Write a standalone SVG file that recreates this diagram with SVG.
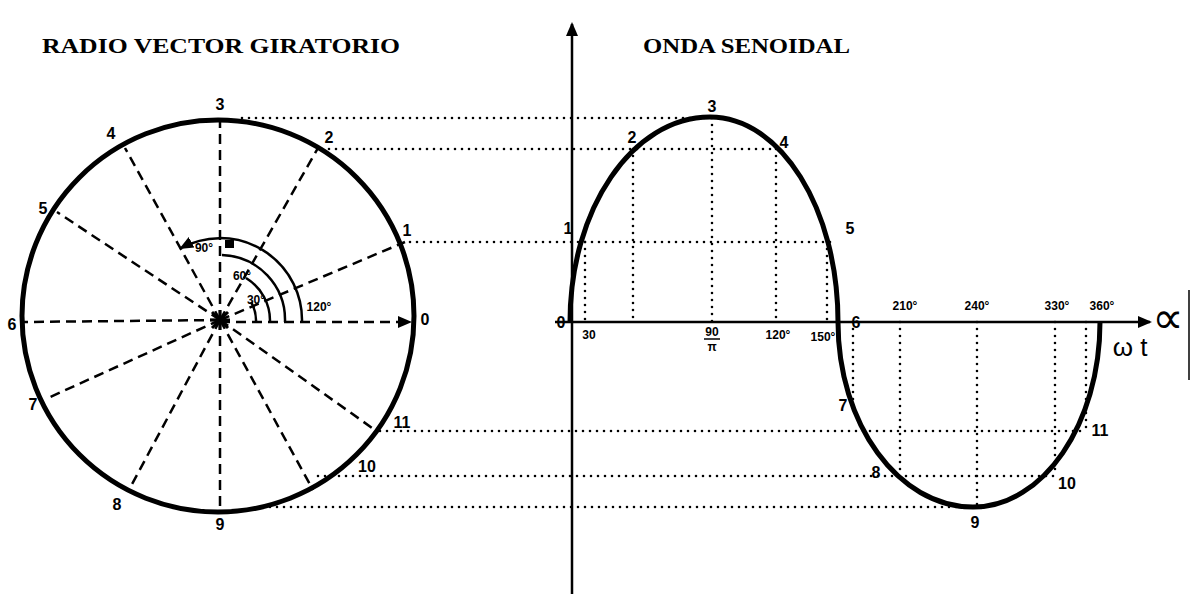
<svg xmlns="http://www.w3.org/2000/svg" width="1194" height="594" viewBox="0 0 1194 594">
<style>
.title{font-family:"Liberation Serif",serif;font-size:22px;font-weight:bold;fill:#000}
.lbl{font-family:"Liberation Sans",sans-serif;font-size:16px;font-weight:bold;fill:#000;text-anchor:middle}
.sm{font-family:"Liberation Sans",sans-serif;font-size:12px;font-weight:bold;fill:#000;text-anchor:middle}
.thick{fill:none;stroke:#000;stroke-width:5}
.dash{fill:none;stroke:#000;stroke-width:2.5;stroke-dasharray:10 6}
.dot{fill:none;stroke:#000;stroke-width:2.6;stroke-dasharray:0 7;stroke-linecap:round}
.axis{fill:none;stroke:#000;stroke-width:2.5}
.arc{fill:none;stroke:#000;stroke-width:2.5}
</style>
<defs>
<marker id="ahb" markerWidth="14" markerHeight="14" refX="12" refY="7" orient="auto" markerUnits="userSpaceOnUse">
<path d="M0,1 L14,7 L0,13 Z" fill="#000"/>
</marker>
</defs>
<rect width="1194" height="594" fill="#fff"/>

<text class="title" x="42" y="53" textLength="358" lengthAdjust="spacingAndGlyphs">RADIO VECTOR GIRATORIO</text>
<text class="title" x="643" y="53" textLength="207" lengthAdjust="spacingAndGlyphs">ONDA SENOIDAL</text>

<g id="connectors">
<line class="dot" x1="242" y1="118" x2="712" y2="118"/>
<line class="dot" x1="322" y1="149" x2="776" y2="149"/>
<line class="dot" x1="410" y1="242" x2="832" y2="242"/>
<line class="dot" x1="380" y1="431" x2="1087" y2="431"/>
<line class="dot" x1="318" y1="476" x2="1055" y2="476"/>
<line class="dot" x1="270" y1="507" x2="973" y2="507"/>
<line class="dot" x1="585" y1="242" x2="585" y2="322"/>
<line class="dot" x1="633" y1="149" x2="633" y2="322"/>
<line class="dot" x1="712" y1="118" x2="712" y2="322"/>
<line class="dot" x1="776" y1="149" x2="776" y2="322"/>
<line class="dot" x1="827" y1="242" x2="827" y2="322"/>
<line class="dot" x1="853" y1="322" x2="853" y2="400"/>
<line class="dot" x1="900" y1="322" x2="900" y2="476"/>
<line class="dot" x1="977" y1="322" x2="977" y2="507"/>
<line class="dot" x1="1055" y1="322" x2="1055" y2="476"/>
<line class="dot" x1="1086" y1="322" x2="1086" y2="431"/>
</g>

<g id="circle">
<circle class="thick" cx="218" cy="316" r="196"/>
<line class="dash" x1="220" y1="320" x2="405" y2="242"/>
<line class="dash" x1="220" y1="320" x2="318" y2="148"/>
<line class="dash" x1="220" y1="320" x2="220" y2="120"/>
<line class="dash" x1="220" y1="320" x2="125" y2="148"/>
<line class="dash" x1="220" y1="320" x2="57" y2="212"/>
<line class="dash" x1="220" y1="320" x2="22" y2="322"/>
<line class="dash" x1="220" y1="320" x2="48" y2="398"/>
<line class="dash" x1="220" y1="320" x2="130" y2="488"/>
<line class="dash" x1="220" y1="320" x2="220" y2="508"/>
<line class="dash" x1="220" y1="320" x2="313" y2="490"/>
<line class="dash" x1="220" y1="320" x2="375" y2="430"/>
<line class="dash" x1="220" y1="322" x2="404" y2="322"/>
<path d="M398,316 L412,322 L398,328 Z" fill="#000"/>
<g stroke="#000" stroke-width="3">
<line x1="212" y1="312" x2="228" y2="328"/>
<line x1="228" y1="312" x2="212" y2="328"/>
<line x1="210" y1="320" x2="230" y2="320"/>
<line x1="220" y1="310" x2="220" y2="330"/>
</g>
<path class="arc" d="M302,322 A82,82 0 0 0 181,248" marker-end="url(#ahb)"/>
<path class="arc" d="M285,322 A65,65 0 0 0 222,255"/>
<rect x="225" y="240" width="9" height="8" fill="#000"/>
<path class="arc" d="M270,322 A50,50 0 0 0 246,278"/>
<path class="arc" d="M256,322 A36,36 0 0 0 251,302"/>
<text class="sm" x="204" y="252">90°</text>
<text class="sm" x="242" y="280">60°</text>
<text class="sm" x="256" y="304">30°</text>
<text class="sm" x="319" y="311">120°</text>
<text class="lbl" x="407" y="236">1</text>
<text class="lbl" x="329" y="143">2</text>
<text class="lbl" x="220" y="110">3</text>
<text class="lbl" x="111" y="139">4</text>
<text class="lbl" x="43" y="214">5</text>
<text class="lbl" x="12" y="330">6</text>
<text class="lbl" x="33" y="410">7</text>
<text class="lbl" x="117" y="510">8</text>
<text class="lbl" x="220" y="530">9</text>
<text class="lbl" x="367" y="472">10</text>
<text class="lbl" x="402" y="428">11</text>
<text class="lbl" x="425" y="325">0</text>
</g>

<g id="axes">
<line class="axis" x1="572" y1="594" x2="572" y2="24" marker-end="url(#ahb)"/>
<line class="axis" x1="555" y1="322" x2="1150" y2="322" marker-end="url(#ahb)"/>
<text x="1168" y="333" font-family="DejaVu Sans,sans-serif" font-size="44" text-anchor="middle" fill="#000">∝</text>
<text x="1130" y="356" font-family="Liberation Sans,sans-serif" font-size="26" text-anchor="middle" fill="#000">ω t</text>
<line x1="1189" y1="290" x2="1189" y2="380" stroke="#000" stroke-width="1.5"/>
</g>

<g id="sine">
<path class="thick" d="M570,322 C570,208.8 632.7,117 710,117 C780.7,117 838,208.8 838,322 C838,424.2 898.4,507 973,507 C1043.1,507 1100,424.2 1100,322"/>
<text class="lbl" x="561" y="328">0</text>
<text class="lbl" x="568" y="234">1</text>
<text class="lbl" x="632" y="143">2</text>
<text class="lbl" x="712" y="112">3</text>
<text class="lbl" x="784" y="148">4</text>
<text class="lbl" x="850" y="234">5</text>
<text class="lbl" x="856" y="328">6</text>
<text class="lbl" x="843" y="411">7</text>
<text class="lbl" x="876" y="478">8</text>
<text class="lbl" x="975" y="528">9</text>
<text class="lbl" x="1067" y="489">10</text>
<text class="lbl" x="1100" y="436">11</text>
<text class="sm" x="589" y="339">30</text>
<text class="sm" x="712" y="336">90</text>
<line x1="704" y1="339" x2="720" y2="339" stroke="#000" stroke-width="1.5"/>
<text class="sm" x="712" y="351">π</text>
<text class="sm" x="778" y="339">120°</text>
<text class="sm" x="823" y="341">150°</text>
<text class="sm" x="905" y="310">210°</text>
<text class="sm" x="977" y="310">240°</text>
<text class="sm" x="1057" y="310">330°</text>
<text class="sm" x="1102" y="310">360°</text>
</g>
</svg>
